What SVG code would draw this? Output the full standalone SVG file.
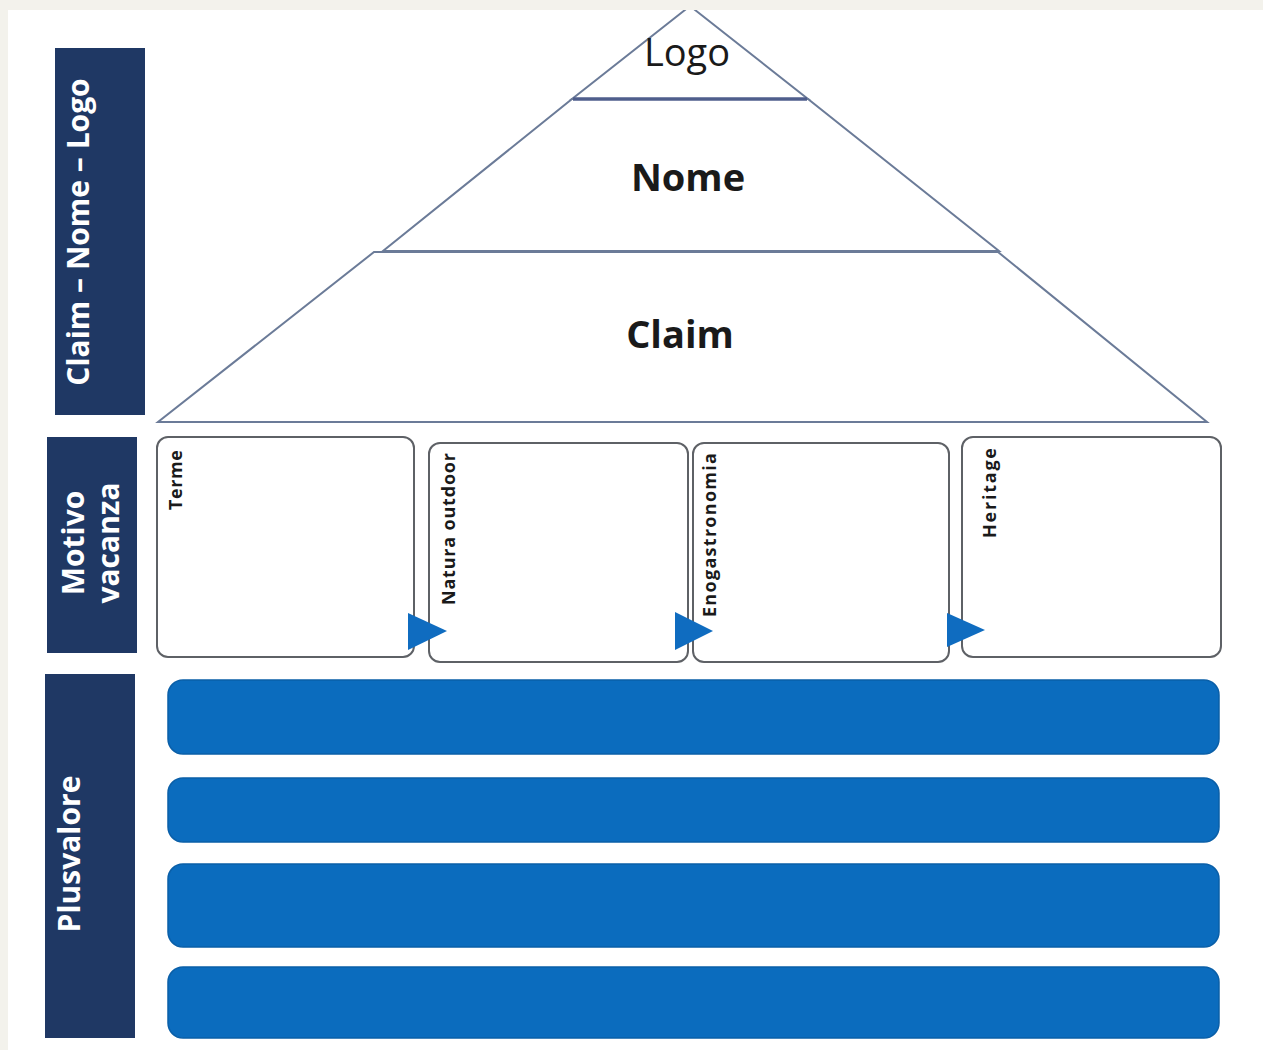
<svg xmlns="http://www.w3.org/2000/svg" width="1263" height="1050" viewBox="0 0 1263 1050">
  <style>
    .side { fill: #1f3864; }
    .sideTxt { font-family: "Open Sans", "Liberation Sans", sans-serif; font-weight: bold; font-size: 30px; fill: #ffffff; }
    .tri { fill: #ffffff; stroke: #6b7b98; stroke-width: 2; stroke-linejoin: miter; }
    .bigTxt { font-family: "Open Sans", "Liberation Sans", sans-serif; font-size: 38px; fill: #1a1a1a; text-anchor: middle; }
    .card { fill: #ffffff; stroke: #5e6166; stroke-width: 2; }
    .cardTxt { font-family: "Open Sans", "Liberation Sans", sans-serif; font-weight: bold; font-size: 18px; fill: #1a1a1a; }
    .bar { fill: #0b6cbe; stroke: #0a5fa8; stroke-width: 1.5; }
    .arrow { fill: #0f6cc0; }
  </style>
  <rect x="0" y="0" width="1263" height="1050" fill="#f3f2ec"/>
  <rect x="8" y="10" width="1255" height="1040" fill="#ffffff"/>

  <g id="side-claim-nome-logo">
    <rect class="side" x="55" y="48" width="90" height="367"/>
    <text class="sideTxt" text-anchor="middle" transform="translate(89,232) rotate(-90)">Claim – Nome – Logo</text>
  </g>
  <g id="side-motivo-vacanza">
    <rect class="side" x="47" y="437" width="90" height="216"/>
    <text class="sideTxt" text-anchor="middle" transform="translate(84,543) rotate(-90)">Motivo</text>
    <text class="sideTxt" text-anchor="middle" transform="translate(119,543) rotate(-90)">vacanza</text>
  </g>
  <g id="side-plusvalore">
    <rect class="side" x="45" y="674" width="90" height="364"/>
    <text class="sideTxt" text-anchor="middle" transform="translate(80,854) rotate(-90)">Plusvalore</text>
  </g>

  <g id="claim">
    <polygon class="tri" points="374,252 998,252 1207,422 158,422"/>
    <text class="bigTxt" font-weight="bold" x="680" y="348">Claim</text>
  </g>
  <g id="nome">
    <polygon class="tri" points="572,99 808,99 999,251 383,251"/>
    <text class="bigTxt" font-weight="bold" x="688" y="191">Nome</text>
  </g>
  <g id="logo">
    <polygon class="tri" points="690,6 808,99 572,99"/>
    <line x1="573" y1="99" x2="807" y2="99" stroke="#4f5e8c" stroke-width="3.5"/>
    <text class="bigTxt" font-size="39" x="687" y="66">Logo</text>
  </g>
  <rect x="0" y="0" width="1263" height="10" fill="#f3f2ec"/>

  <g id="terme">
    <rect class="card" x="157" y="437" width="257" height="220" rx="11"/>
    <text class="cardTxt" textLength="60" lengthAdjust="spacing" transform="translate(182,510) rotate(-90)">Terme</text>
  </g>
  <g id="natura-outdoor">
    <rect class="card" x="429" y="443" width="259" height="219" rx="11"/>
    <text class="cardTxt" textLength="152" lengthAdjust="spacing" transform="translate(455,605) rotate(-90)">Natura outdoor</text>
  </g>
  <g id="enogastronomia">
    <rect class="card" x="693" y="443" width="256" height="219" rx="11"/>
    <text class="cardTxt" textLength="164" lengthAdjust="spacing" transform="translate(716,617) rotate(-90)">Enogastronomia</text>
  </g>
  <g id="heritage">
    <rect class="card" x="962" y="437" width="259" height="220" rx="11"/>
    <text class="cardTxt" textLength="90" lengthAdjust="spacing" transform="translate(996,538) rotate(-90)">Heritage</text>
  </g>

  <g id="bar-1"><rect class="bar" x="168" y="680" width="1051" height="74" rx="15"/></g>
  <g id="bar-2"><rect class="bar" x="168" y="778" width="1051" height="64" rx="15"/></g>
  <g id="bar-3"><rect class="bar" x="168" y="864" width="1051" height="83" rx="15"/></g>
  <g id="bar-4"><rect class="bar" x="168" y="967" width="1051" height="71" rx="15"/></g>

  <g id="connectors">
    <polygon class="arrow" points="408,613 447,631 408,650"/>
    <polygon class="arrow" points="675,612 713,631 675,650"/>
    <polygon class="arrow" points="947,613 985,630 947,647"/>
  </g>
</svg>
